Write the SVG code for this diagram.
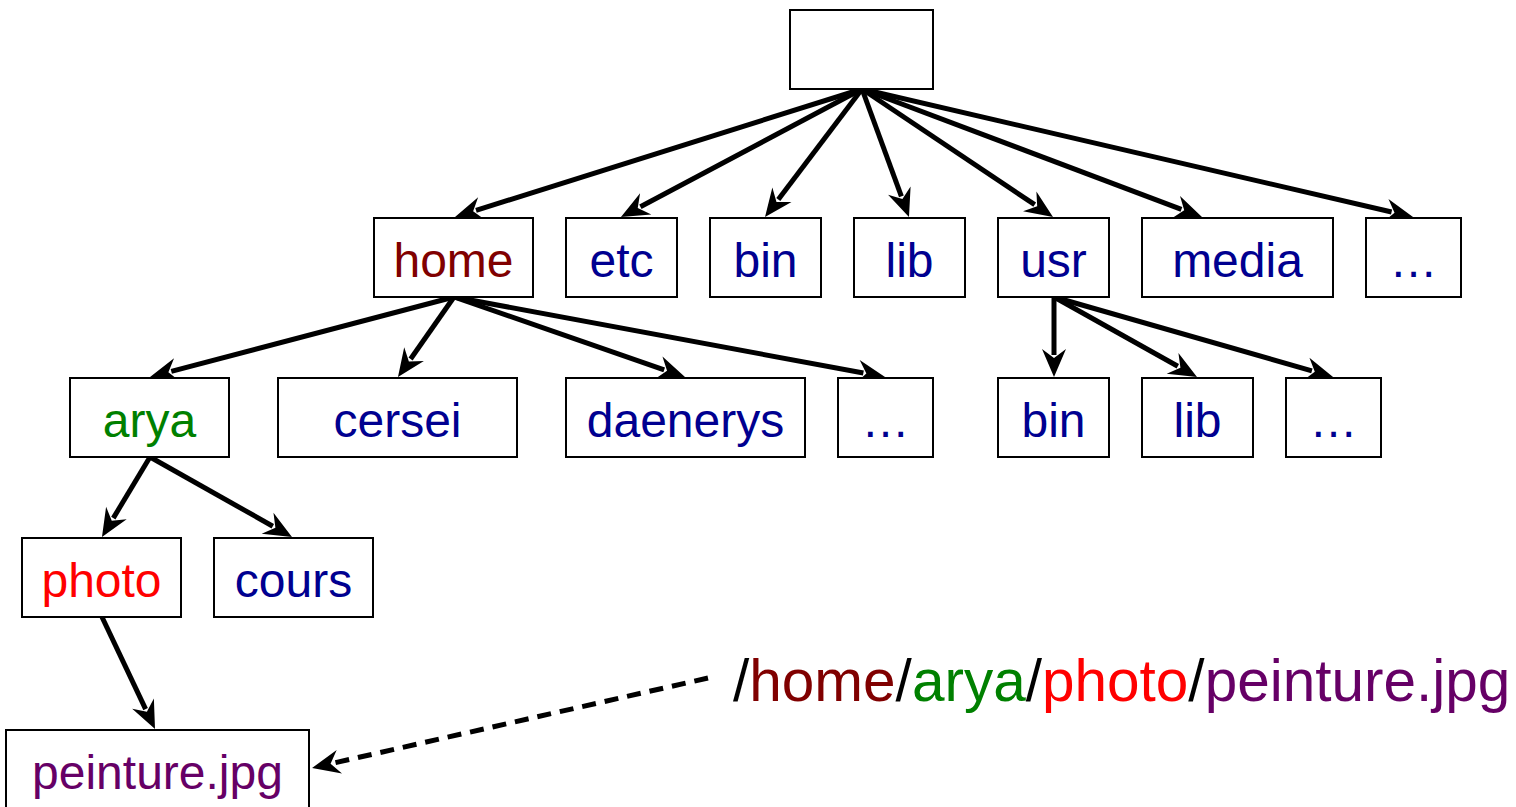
<svg xmlns="http://www.w3.org/2000/svg" width="1516" height="807" viewBox="0 0 1516 807">
<style>
.box{fill:#fff;stroke:#000;stroke-width:2}
.t{font-family:"Liberation Sans",Arial,sans-serif;font-size:48px;text-anchor:middle}
.blue{fill:#000090}
.con{stroke:#000;stroke-width:5;fill:none;marker-end:url(#ah)}
.dash{stroke-dasharray:14 9}
</style>
<defs>
<marker id="ah" viewBox="-1 -13 30 26" refX="6" refY="0" markerWidth="30" markerHeight="26" markerUnits="userSpaceOnUse" orient="auto" overflow="visible">
<path d="M28,0 L0,-12 L9,0 L0,12 Z" fill="#000"/>
</marker>
</defs>
<rect width="1516" height="807" fill="#fff"/>
<g id="connectors">
<line class="con" x1="862" y1="89" x2="476" y2="210.4"/>
<line class="con" x1="862" y1="89" x2="640.4" y2="206.7"/>
<line class="con" x1="862" y1="89" x2="778.3" y2="199.5"/>
<line class="con" x1="862" y1="89" x2="901.4" y2="196.3"/>
<line class="con" x1="862" y1="89" x2="1034.7" y2="204.7"/>
<line class="con" x1="862" y1="89" x2="1181.4" y2="209.3"/>
<line class="con" x1="862" y1="89" x2="1391.6" y2="212"/>
<line class="con" x1="454" y1="297" x2="171.3" y2="371.4"/>
<line class="con" x1="454" y1="297" x2="410.6" y2="359"/>
<line class="con" x1="454" y1="297" x2="664.2" y2="369.8"/>
<line class="con" x1="454" y1="297" x2="863.4" y2="373"/>
<line class="con" x1="1054" y1="297" x2="1054" y2="355"/>
<line class="con" x1="1054" y1="297" x2="1177.8" y2="366.3"/>
<line class="con" x1="1054" y1="297" x2="1311.9" y2="370.9"/>
<line class="con" x1="150" y1="457" x2="113.3" y2="518.1"/>
<line class="con" x1="150" y1="457" x2="272.8" y2="526.2"/>
<line class="con" x1="102" y1="617" x2="145.6" y2="709.1"/>
<line class="con dash" x1="708" y1="678" x2="333.5" y2="763.1"/>
</g>
<g id="root"><rect class="box" x="790" y="10" width="143" height="79"/></g>
<g id="home"><rect class="box" x="374" y="218" width="159" height="79"/><text class="t" x="453.5" y="277" fill="#800000">home</text></g>
<g id="etc"><rect class="box" x="566" y="218" width="111" height="79"/><text class="t blue" x="621.5" y="277">etc</text></g>
<g id="bin1"><rect class="box" x="710" y="218" width="111" height="79"/><text class="t blue" x="765.5" y="277">bin</text></g>
<g id="lib1"><rect class="box" x="854" y="218" width="111" height="79"/><text class="t blue" x="909.5" y="277">lib</text></g>
<g id="usr"><rect class="box" x="998" y="218" width="111" height="79"/><text class="t blue" x="1053.5" y="277">usr</text></g>
<g id="media"><rect class="box" x="1142" y="218" width="191" height="79"/><text class="t blue" x="1237.5" y="277">media</text></g>
<g id="more1"><rect class="box" x="1366" y="218" width="95" height="79"/><text class="t blue" x="1413.5" y="277">…</text></g>
<g id="arya"><rect class="box" x="70" y="378" width="159" height="79"/><text class="t" x="149.5" y="437" fill="#008000">arya</text></g>
<g id="cersei"><rect class="box" x="278" y="378" width="239" height="79"/><text class="t blue" x="397.5" y="437">cersei</text></g>
<g id="daenerys"><rect class="box" x="566" y="378" width="239" height="79"/><text class="t blue" x="685.5" y="437">daenerys</text></g>
<g id="more2"><rect class="box" x="838" y="378" width="95" height="79"/><text class="t blue" x="885.5" y="437">…</text></g>
<g id="bin2"><rect class="box" x="998" y="378" width="111" height="79"/><text class="t blue" x="1053.5" y="437">bin</text></g>
<g id="lib2"><rect class="box" x="1142" y="378" width="111" height="79"/><text class="t blue" x="1197.5" y="437">lib</text></g>
<g id="more3"><rect class="box" x="1286" y="378" width="95" height="79"/><text class="t blue" x="1333.5" y="437">…</text></g>
<g id="photo"><rect class="box" x="22" y="538" width="159" height="79"/><text class="t" x="101.5" y="597" fill="#ff0000">photo</text></g>
<g id="cours"><rect class="box" x="214" y="538" width="159" height="79"/><text class="t blue" x="293.5" y="597">cours</text></g>
<g id="peinture"><rect class="box" x="6" y="730" width="303" height="90"/><text class="t" x="157.5" y="789" fill="#660066">peinture.jpg</text></g>
<g id="path-label"><text x="733" y="701" font-family="'Liberation Sans',Arial,sans-serif" font-size="58.5" fill="#000">/<tspan fill="#800000">home</tspan>/<tspan fill="#008000">arya</tspan>/<tspan fill="#ff0000">photo</tspan>/<tspan fill="#660066">peinture.jpg</tspan></text></g>
</svg>
